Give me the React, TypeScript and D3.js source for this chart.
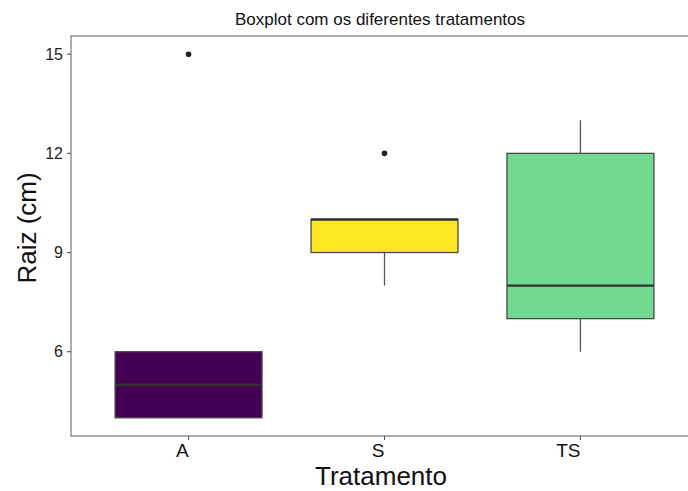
import React, { useEffect, useRef } from "react";
import * as d3 from "d3";

const categories = ["A", "S", "TS"];
const q1 = [4, 9, 7];
const medians = [5, 10, 8];
const q3 = [6, 10, 12];
const whiskerLow = [4, 8, 6];
const whiskerHigh = [6, 10, 13];
const outliers = [[15], [12], []];
const fills = ["#440154", "#FDE725", "#72DA90"];
const yTicks = [6, 9, 12, 15];

export default function App() {
  const ref = useRef<SVGSVGElement>(null);

  useEffect(() => {
    const width = 688;
    const height = 491;
    const svg = d3.select(ref.current);
    svg.selectAll("*").remove();

    const left = 71;
    const top = 36;
    const bottom = 436;
    const right = 698; // panel goes past the picture edge

    // discrete scale: positions 1..3 with 0.6 expansion
    const xc = d3.scaleLinear().domain([0.4, 3.6]).range([left, right]);
    const y = d3.scaleLinear().domain([3.45, 15.55]).range([bottom, top]);
    const boxW = (xc(2) - xc(1)) * 0.75;

    svg.attr("width", width).attr("height", height).style("font-family", "'Liberation Sans', Arial, sans-serif");

    // panel border
    svg.append("rect").attr("x", left).attr("y", top).attr("width", right - left).attr("height", bottom - top)
      .attr("fill", "none").attr("stroke", "#6b6b6b").attr("stroke-width", 1.1);

    const g = svg.append("g");
    categories.forEach((c, i) => {
      const cx = xc(i + 1);
      // whiskers
      g.append("line").attr("x1", cx).attr("x2", cx).attr("y1", y(whiskerHigh[i])).attr("y2", y(q3[i]))
        .attr("stroke", "#555").attr("stroke-width", 1.3);
      g.append("line").attr("x1", cx).attr("x2", cx).attr("y1", y(q1[i])).attr("y2", y(whiskerLow[i]))
        .attr("stroke", "#555").attr("stroke-width", 1.3);
      g.append("rect").attr("x", cx - boxW / 2).attr("y", y(q3[i])).attr("width", boxW)
        .attr("height", y(q1[i]) - y(q3[i])).attr("fill", fills[i])
        .attr("stroke", "#4a4a4a").attr("stroke-width", 1.3);
      g.append("line").attr("x1", cx - boxW / 2).attr("x2", cx + boxW / 2)
        .attr("y1", y(medians[i])).attr("y2", y(medians[i]))
        .attr("stroke", "#333").attr("stroke-width", 2.4);
      outliers[i].forEach(o => {
        g.append("circle").attr("cx", cx).attr("cy", y(o)).attr("r", 2.8).attr("fill", "#222");
      });
    });

    // y ticks
    yTicks.forEach(t => {
      svg.append("line").attr("x1", left - 4).attr("x2", left).attr("y1", y(t)).attr("y2", y(t))
        .attr("stroke", "#555").attr("stroke-width", 1.1);
      svg.append("text").attr("x", left - 8).attr("y", y(t)).attr("dy", "0.36em").attr("text-anchor", "end")
        .style("font-size", "16px").attr("fill", "#222").text(t);
    });

    // x ticks (labels end at the tick)
    categories.forEach((c, i) => {
      const cx = xc(i + 1);
      svg.append("line").attr("x1", cx).attr("x2", cx).attr("y1", bottom).attr("y2", bottom + 4)
        .attr("stroke", "#555").attr("stroke-width", 1.1);
      svg.append("text").attr("x", cx).attr("y", bottom + 21).attr("text-anchor", "end")
        .style("font-size", "19px").attr("fill", "#111").text(c);
    });

    svg.append("text").attr("x", 380).attr("y", 25).attr("text-anchor", "middle")
      .style("font-size", "17px").attr("fill", "#111").text("Boxplot com os diferentes tratamentos");

    svg.append("text").attr("x", 381).attr("y", 485).attr("text-anchor", "middle")
      .style("font-size", "26px").attr("fill", "#111").text("Tratamento");

    svg.append("text").attr("transform", `translate(36, 228) rotate(-90)`).attr("text-anchor", "middle")
      .style("font-size", "26px").attr("fill", "#111").text("Raiz (cm)");
  }, []);

  return <svg ref={ref} style={{ position: "absolute", left: 0, top: 0 }}></svg>;
}
